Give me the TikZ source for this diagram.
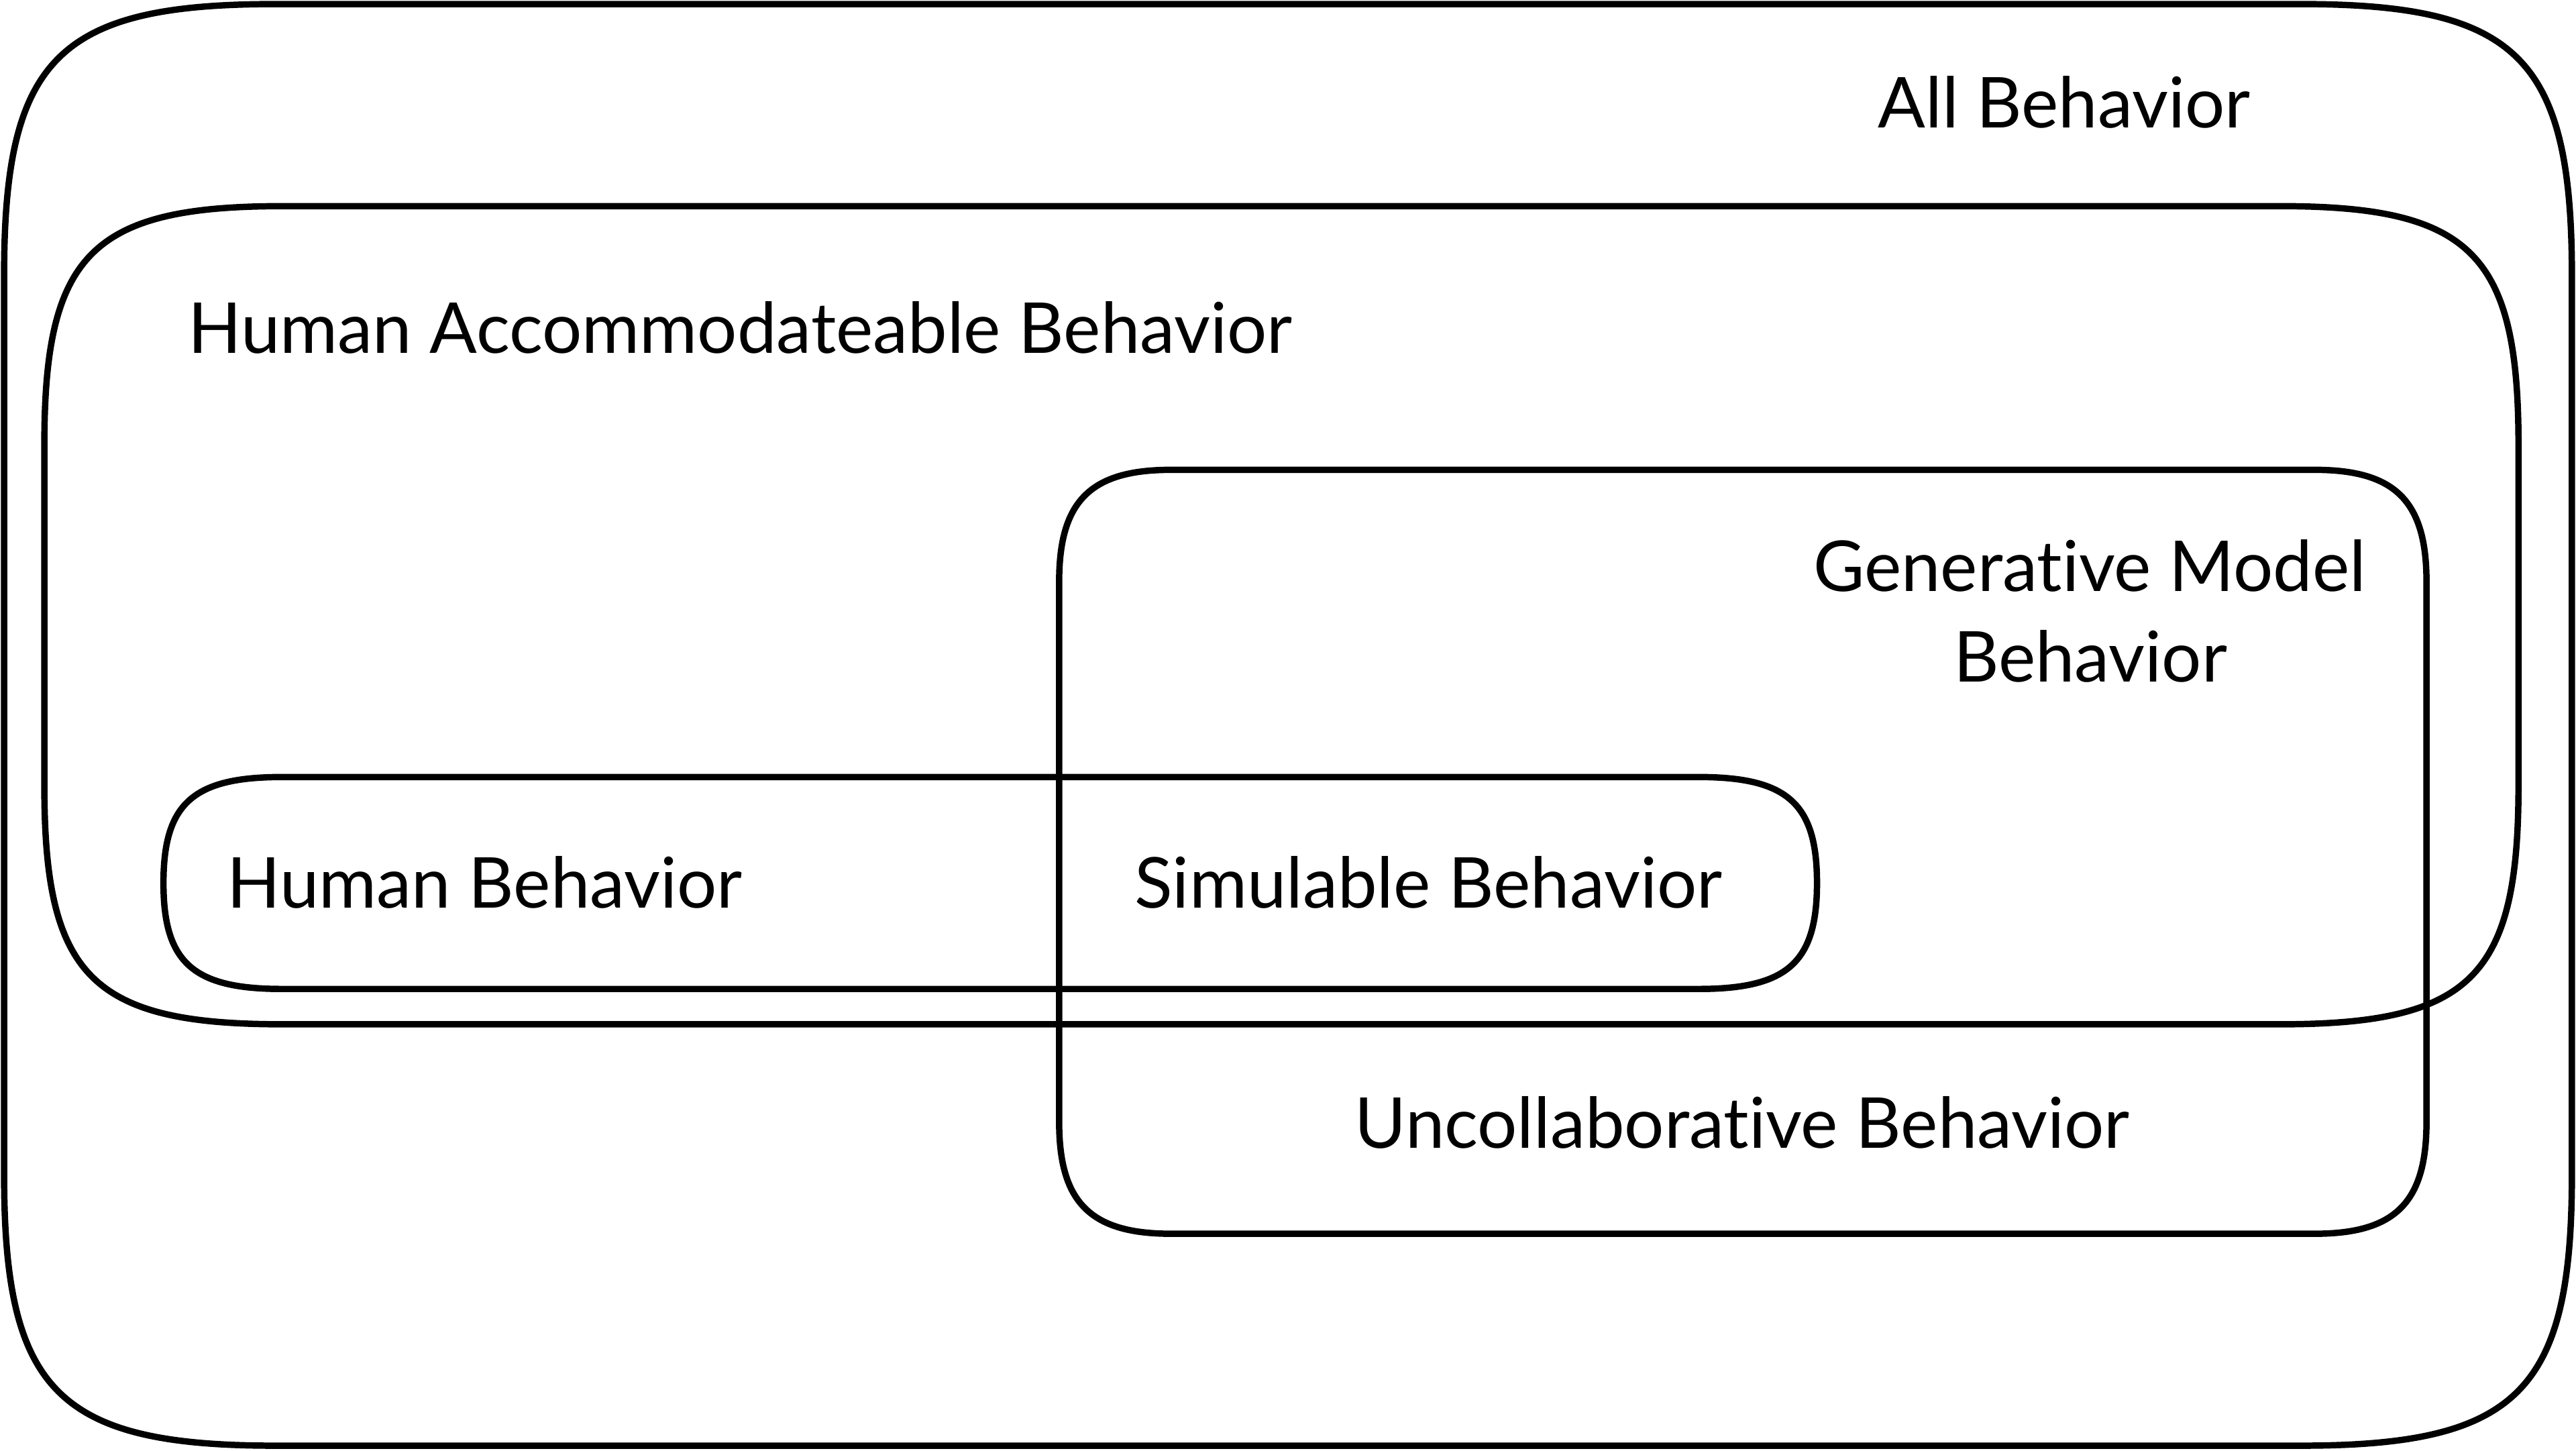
\documentclass[tikz,border=0pt]{standalone}
\usepackage{fontspec}
\setmainfont[Ligatures={NoCommon,NoRequired,NoContextual}]{Lato}
\newcommand\sqrbox[7]{%
  \pgfmathsetmacro\sqAx{#1+#5}\pgfmathsetmacro\sqBx{#3-#5}%
  \pgfmathsetmacro\sqAy{#2+#6}\pgfmathsetmacro\sqBy{#4-#6}%
  \pgfmathsetmacro\sqCx{#7*#5}\pgfmathsetmacro\sqCy{#7*#6}%
  \draw[boxline] (\sqAx,#2) -- (\sqBx,#2)
    .. controls (\sqBx+\sqCx,#2) and (#3,\sqAy-\sqCy) .. (#3,\sqAy)
    -- (#3,\sqBy)
    .. controls (#3,\sqBy+\sqCy) and (\sqBx+\sqCx,#4) .. (\sqBx,#4)
    -- (\sqAx,#4)
    .. controls (\sqAx-\sqCx,#4) and (#1,\sqBy+\sqCy) .. (#1,\sqBy)
    -- (#1,\sqAy)
    .. controls (#1,\sqAy-\sqCy) and (\sqAx-\sqCx,#2) .. cycle;}
\tikzset{
  boxline/.style={draw=black, line width=1.1pt, line join=round},
  lbl/.style={inner sep=0pt, anchor=base, font=\fontsize{12.15}{15.7}\selectfont}
}
\begin{document}
\begin{tikzpicture}[x=0.01cm,y=-0.01cm]
\useasboundingbox (0,0) rectangle (1568,883);
% All Behavior
\sqrbox{2.5}{2.5}{1565.5}{880}{165}{165}{0.8}
% Human Accommodateable Behavior
\sqrbox{27}{125.5}{1533}{623.5}{145}{145}{0.8}
% Generative Model Behavior
\sqrbox{644.7}{286}{1477}{751}{68}{68}{0.72}
% Human Behavior
\sqrbox{99.5}{473}{1106}{602}{72}{64.5}{0.75}

\node[lbl] (all) at (1256.5,78) {All Behavior};
\node[lbl] (hab) at (450.5,215) {Human Accommodateable Behavior};
\node[lbl] (gen1) at (1272,360) {Generative Model};
\node[lbl] (gen2) at (1272.5,415) {Behavior};
\node[lbl] (hb) at (295,552.6) {Human Behavior};
\node[lbl] (sim) at (869.5,552.6) {Simulable Behavior};
\node[lbl] (unc) at (1060.5,699) {Uncollaborative Behavior};
\end{tikzpicture}
\end{document}
